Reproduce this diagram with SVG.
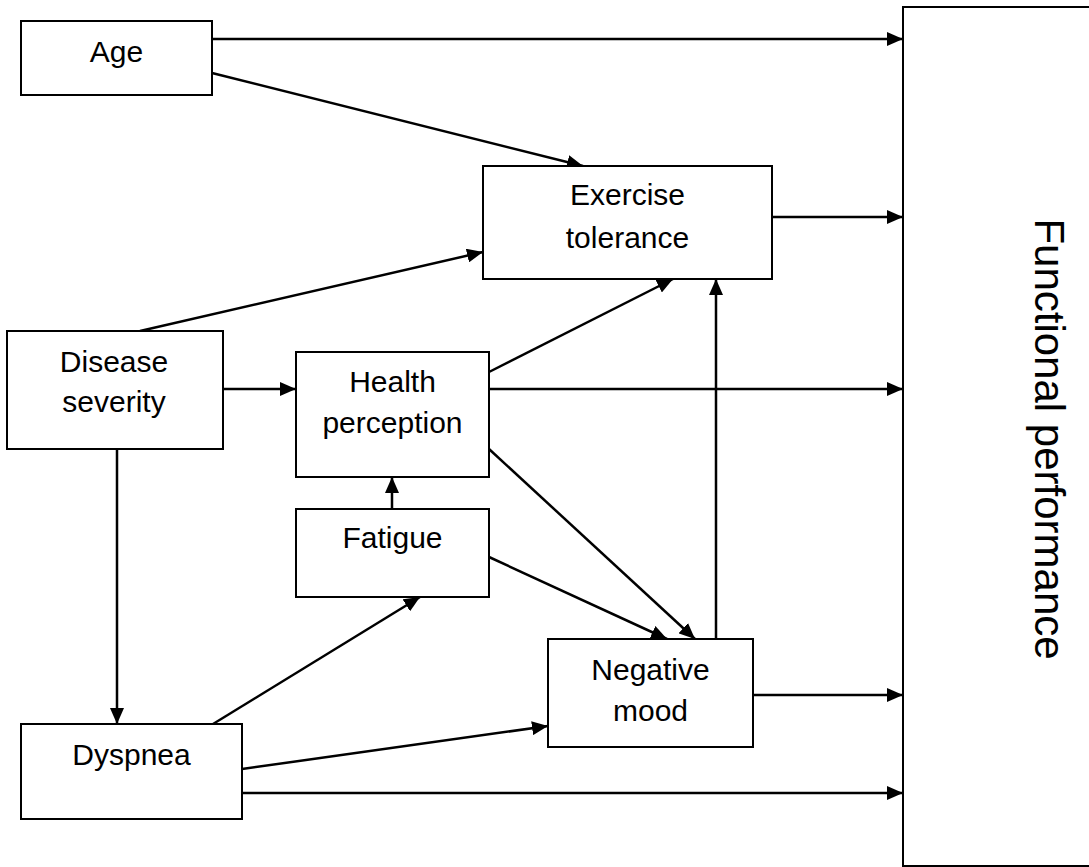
<svg xmlns="http://www.w3.org/2000/svg" width="1089" height="867" viewBox="0 0 1089 867">
  <style>
    .box { fill: #ffffff; stroke: #000000; stroke-width: 2; }
    .lbl { font-family: "Liberation Sans", Arial, sans-serif; font-size: 30px; fill: #000000; text-anchor: middle; }
    .big { font-family: "Liberation Sans", Arial, sans-serif; font-size: 42px; fill: #000000; text-anchor: middle; }
    .edge { fill: none; stroke: #000000; stroke-width: 2.5; marker-end: url(#arrow); }
  </style>
  <defs>
    <marker id="arrow" markerUnits="userSpaceOnUse" markerWidth="16" markerHeight="14" viewBox="0 0 16 14" refX="16" refY="7" orient="auto">
      <path d="M0,0 L16,7 L0,14 Z" fill="#000000"/>
    </marker>
  </defs>
  <rect width="1089" height="867" fill="#ffffff"/>

  <g id="connectors">
    <line class="edge" x1="212" y1="39" x2="903" y2="39"/>
    <line class="edge" x1="212" y1="73" x2="583" y2="166"/>
    <line class="edge" x1="772" y1="217" x2="903" y2="217"/>
    <line class="edge" x1="140" y1="331" x2="483" y2="252"/>
    <line class="edge" x1="223" y1="389" x2="296" y2="389"/>
    <line class="edge" x1="489" y1="372" x2="673" y2="279"/>
    <line class="edge" x1="489" y1="389" x2="903" y2="389"/>
    <line class="edge" x1="489" y1="449" x2="695" y2="639"/>
    <line class="edge" x1="392" y1="509" x2="392" y2="477"/>
    <line class="edge" x1="489" y1="557" x2="667" y2="639"/>
    <line class="edge" x1="716" y1="639" x2="716" y2="279"/>
    <line class="edge" x1="753" y1="695" x2="903" y2="695"/>
    <line class="edge" x1="117" y1="449" x2="117" y2="724"/>
    <line class="edge" x1="213" y1="724" x2="420" y2="597"/>
    <line class="edge" x1="242" y1="769" x2="548" y2="726"/>
    <line class="edge" x1="242" y1="793" x2="903" y2="793"/>
  </g>

  <g id="age">
    <rect class="box" x="21" y="21" width="191" height="74"/>
    <text class="lbl" x="116.5" y="62">Age</text>
  </g>

  <g id="exercise-tolerance">
    <rect class="box" x="483" y="166" width="289" height="113"/>
    <text class="lbl" x="627.5" y="205">Exercise</text>
    <text class="lbl" x="627.5" y="248">tolerance</text>
  </g>

  <g id="disease-severity">
    <rect class="box" x="7" y="331" width="216" height="118"/>
    <text class="lbl" x="114" y="372">Disease</text>
    <text class="lbl" x="114" y="412">severity</text>
  </g>

  <g id="health-perception">
    <rect class="box" x="296" y="352" width="193" height="125"/>
    <text class="lbl" x="392.5" y="392">Health</text>
    <text class="lbl" x="392.5" y="433">perception</text>
  </g>

  <g id="fatigue">
    <rect class="box" x="296" y="509" width="193" height="88"/>
    <text class="lbl" x="392.5" y="548">Fatigue</text>
  </g>

  <g id="negative-mood">
    <rect class="box" x="548" y="639" width="205" height="108"/>
    <text class="lbl" x="650.5" y="680">Negative</text>
    <text class="lbl" x="650.5" y="721">mood</text>
  </g>

  <g id="dyspnea">
    <rect class="box" x="21" y="724" width="221" height="95"/>
    <text class="lbl" x="131.5" y="765">Dyspnea</text>
  </g>

  <g id="functional-performance">
    <rect class="box" x="903" y="7" width="200" height="859"/>
    <text class="big" transform="translate(1035,439) rotate(90)">Functional performance</text>
  </g>
</svg>
